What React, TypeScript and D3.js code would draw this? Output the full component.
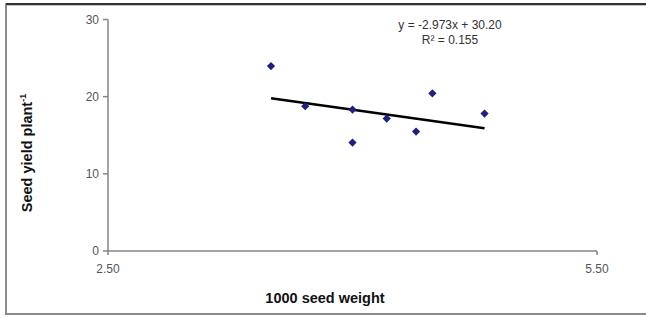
import React from "react";
import * as d3 from "d3";

// 1000 seed weight vs seed yield per plant
const seedWeight = [3.5, 3.71, 4.0, 4.0, 4.21, 4.39, 4.49, 4.81];
const seedYield = [23.97, 18.76, 18.33, 14.06, 17.17, 15.48, 20.44, 17.81];
const yTicks = [0, 10, 20, 30];
const xTicks = [2.5, 5.5];
const trendSlope = -2.973;
const trendIntercept = 30.2;
const equationLines = ["y = -2.973x  + 30.20", "R² = 0.155"];

const width = 646;
const height = 318;

const App = () => {
  const x = d3.scaleLinear().domain([2.5, 5.5]).range([108, 597]);
  const y = d3.scaleLinear().domain([0, 30]).range([251, 19.5]);
  // square turned 45deg, like excel's diamond marker
  const marker = d3.symbol().type(d3.symbolSquare).size(34);

  const xExt = d3.extent(seedWeight) as [number, number];
  const trend = d3.line<number>()
    .x((d) => x(d))
    .y((d) => y(trendSlope * d + trendIntercept));

  const axisColor = "#858585";
  const font = "'Liberation Sans', Arial, sans-serif";

  return (
    <svg width={width} height={height} style={{ position: "absolute", left: 0, top: 0 }}>
      <rect x={0} y={0} width={width} height={height} fill="#fff" />
      <rect x={6} y={4.5} width={700} height={309.5} fill="none" stroke="#8a8a8a" strokeWidth={2} />
      <line x1={6} x2={700} y1={4} y2={4} stroke="#333" strokeWidth={2} />

      {/* y axis */}
      <line x1={x(2.5)} x2={x(2.5)} y1={y(30)} y2={y(0)} stroke={axisColor} strokeWidth={1.5} />
      {yTicks.map((t) => (
        <g key={t}>
          <line x1={x(2.5) - 5} x2={x(2.5)} y1={y(t)} y2={y(t)} stroke={axisColor} strokeWidth={1.5} />
          <text x={x(2.5) - 9} y={y(t)} dy="0.35em" textAnchor="end" fontFamily={font} fontSize={12} fill="#555">
            {t}
          </text>
        </g>
      ))}

      {/* x axis */}
      <line x1={x(2.5)} x2={x(5.5)} y1={y(0)} y2={y(0)} stroke={axisColor} strokeWidth={1.5} />
      {xTicks.map((t) => (
        <g key={t}>
          <line x1={x(t)} x2={x(t)} y1={y(0)} y2={y(0) + 4} stroke={axisColor} strokeWidth={1.5} />
          <text x={x(t)} y={y(0) + 22} textAnchor="middle" fontFamily={font} fontSize={12} fill="#555">
            {d3.format(".2f")(t)}
          </text>
        </g>
      ))}

      {/* axis titles */}
      <text x={325} y={303} textAnchor="middle" fontFamily={font} fontSize={14.5} fontWeight="bold" fill="#111">
        1000 seed weight
      </text>
      <text
        transform="translate(32,153) rotate(-90)"
        textAnchor="middle"
        fontFamily={font}
        fontSize={14.5}
        fontWeight="bold"
        fill="#111"
      >
        Seed yield plant<tspan dy={-6} fontSize={9}>-1</tspan>
      </text>

      {/* trendline */}
      <path d={trend(xExt) ?? ""} fill="none" stroke="#000" strokeWidth={2.5} />

      {/* points */}
      {seedWeight.map((w, i) => (
        <path
          key={i}
          d={marker() ?? ""}
          transform={`translate(${x(w)},${y(seedYield[i])}) rotate(45)`}
          fill="#1f1f7f"
        />
      ))}

      {/* equation */}
      {equationLines.map((l, i) => (
        <text key={i} x={450} y={29 + i * 15} textAnchor="middle" fontFamily={font} fontSize={12} fill="#333">
          {l}
        </text>
      ))}
    </svg>
  );
};

export default App;
